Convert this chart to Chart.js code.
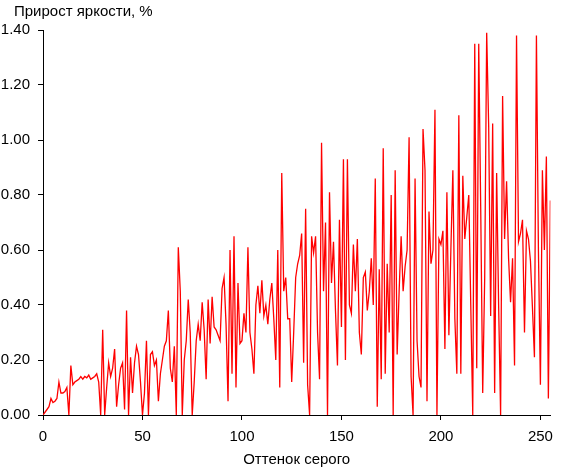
<!DOCTYPE html>
<html><head><meta charset="utf-8">
<script src="https://cdn.jsdelivr.net/npm/chart.js@4.4.0/dist/chart.umd.min.js"></script>
<style>html,body{margin:0;padding:0;background:#fff;overflow:hidden}</style>
</head><body>
<canvas id="c" width="561" height="469"></canvas>
<script>
const chartTitle = 'Прирост яркости, %';
const xAxisTitle = 'Оттенок серого';
const xTickValues = [0, 50, 100, 150, 200, 250];
const yTickValues = [0, 0.2, 0.4, 0.6, 0.8, 1.0, 1.2, 1.4];

// gray levels 0..255 (category domain)
const grayLevels = [];
for (let g = 0; g <= 255; g++) grayLevels.push(g);

// brightness increment, %
const brightnessGain = [
0.00,0.01,0.02,0.03,0.06,0.045,0.05,0.06,0.12,0.08,0.08,0.085,0.10,0.00,0.18,0.11,
0.12,0.125,0.13,0.14,0.13,0.14,0.135,0.145,0.13,0.135,0.14,0.15,0.12,0.00,0.31,0.00,
0.10,0.19,0.14,0.17,0.24,0.03,0.11,0.17,0.19,0.02,0.38,0.00,0.21,0.08,0.19,0.25,
0.22,0.12,0.00,0.08,0.27,0.00,0.22,0.23,0.18,0.20,0.05,0.15,0.20,0.25,0.27,0.38,
0.17,0.12,0.25,0.00,0.61,0.45,0.00,0.20,0.27,0.42,0.30,0.00,0.12,0.27,0.33,0.27,
0.41,0.31,0.13,0.42,0.26,0.43,0.32,0.31,0.29,0.27,0.46,0.50,0.33,0.05,0.60,0.15,
0.65,0.10,0.48,0.26,0.27,0.37,0.30,0.61,0.30,0.24,0.15,0.40,0.47,0.37,0.49,0.36,
0.40,0.33,0.42,0.48,0.35,0.20,0.60,0.10,0.88,0.45,0.50,0.35,0.35,0.12,0.30,0.50,
0.55,0.58,0.66,0.19,0.75,0.11,0.00,0.65,0.59,0.65,0.30,0.13,0.99,0.45,0.70,0.00,
0.81,0.48,0.63,0.38,0.18,0.71,0.32,0.93,0.20,0.93,0.40,0.37,0.62,0.45,0.64,0.30,
0.22,0.50,0.52,0.38,0.45,0.57,0.40,0.86,0.03,0.53,0.13,0.97,0.15,0.55,0.30,0.80,
0.00,0.89,0.22,0.45,0.65,0.45,0.54,0.60,1.01,0.14,0.00,0.86,0.27,0.14,0.10,1.04,
0.89,0.05,0.74,0.55,0.60,1.11,0.00,0.64,0.62,0.67,0.24,0.81,0.29,0.60,0.89,0.35,
0.15,1.09,0.15,0.87,0.64,0.72,0.80,0.40,0.00,1.35,0.17,1.35,0.75,0.08,0.50,1.39,
1.05,0.36,1.06,0.08,0.88,0.40,0.00,1.16,0.64,0.85,0.57,0.41,0.57,0.18,1.38,0.63,
0.66,0.71,0.30,0.67,0.64,0.56,0.39,0.21,1.38,0.60,0.11,0.89,0.60,0.94,0.06,0.78
];

const FONT = {family: "'Liberation Sans', Arial, sans-serif", size: 15, weight: 'normal'};

const topTitle = {
  id: 'topTitle',
  afterDraw(chart) {
    const ctx = chart.ctx;
    ctx.save();
    ctx.font = "15px 'Liberation Sans', Arial, sans-serif";
    ctx.fillStyle = '#000';
    ctx.textAlign = 'left';
    ctx.textBaseline = 'middle';
    ctx.fillText(chartTitle, 14, 12);
    ctx.restore();
  }
};

new Chart(document.getElementById('c').getContext('2d'), {
  type: 'line',
  data: {
    datasets: [{
      label: 'Прирост яркости',
      data: grayLevels.map((g, i) => ({x: g, y: brightnessGain[i]})),
      borderColor: '#ff0000',
      borderWidth: 1.3,
      pointRadius: 0,
      tension: 0,
      fill: false
    }]
  },
  plugins: [topTitle],
  options: {
    responsive: false,
    animation: false,
    devicePixelRatio: 1,
    layout: {padding: {left: 0, right: 4, top: 30, bottom: 0}},
    plugins: {
      legend: {display: false},
      tooltip: {enabled: false},
      title: {display: false}
    },
    scales: {
      x: {
        type: 'linear', min: 0, max: 255,
        afterBuildTicks: s => { s.ticks = xTickValues.map(v => ({value: v})); },
        afterFit: s => { s.height = 54; },
        ticks: {color: '#000', font: FONT, padding: 8, maxRotation: 0, autoSkip: false},
        grid: {drawOnChartArea: false, drawTicks: true, tickLength: 5, color: '#000'},
        border: {display: true, color: '#000', width: 1},
        title: {display: true, text: xAxisTitle, color: '#000', font: FONT, padding: {top: 0, bottom: 0}}
      },
      y: {
        type: 'linear', min: 0, max: 1.4,
        afterBuildTicks: s => { s.ticks = yTickValues.map(v => ({value: v})); },
        afterFit: s => { s.width = 43; },
        ticks: {color: '#000', font: FONT, padding: 8, callback: v => Number(v).toFixed(2)},
        grid: {drawOnChartArea: false, drawTicks: true, tickLength: 5, color: '#000'},
        border: {display: true, color: '#000', width: 1}
      }
    }
  }
});
</script>
</body></html>
